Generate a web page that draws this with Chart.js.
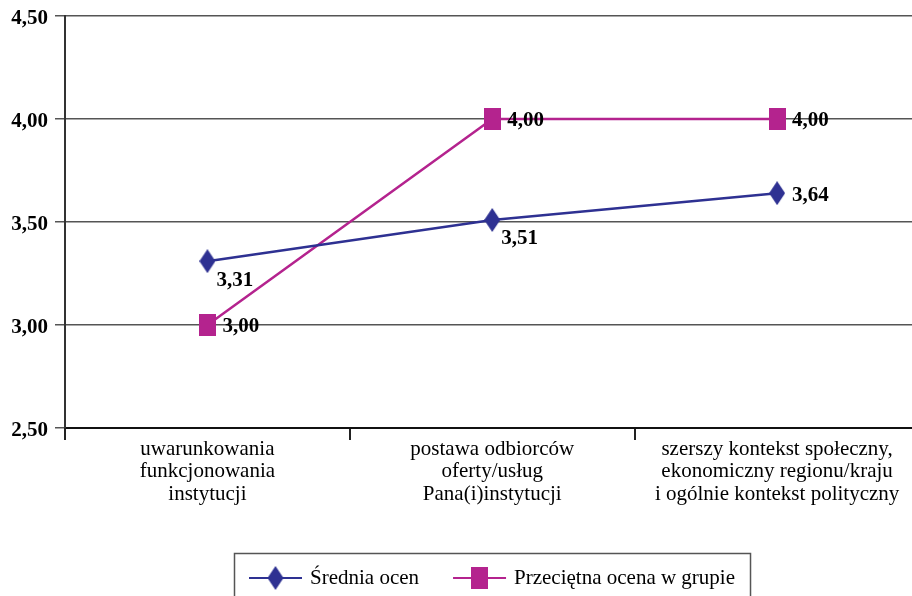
<!DOCTYPE html>
<html>
<head>
<meta charset="utf-8">
<script src="https://cdn.jsdelivr.net/npm/chart.js@4.4.1/dist/chart.umd.min.js"></script>
<style>
  html, body { margin: 0; padding: 0; background: #fff; overflow: hidden; }
  #wrap { width: 926px; height: 596px; }
</style>
</head>
<body>
<div id="wrap"><canvas id="chart" width="926" height="596"></canvas></div>
<script>
const categories = [
  ['uwarunkowania', 'funkcjonowania', 'instytucji'],
  ['postawa odbiorców', 'oferty/usług', 'Pana(i)instytucji'],
  ['szerszy kontekst społeczny,', 'ekonomiczny regionu/kraju', 'i ogólnie kontekst polityczny']
];
const seriesNames = ['Średnia ocen', 'Przeciętna ocena w grupie'];
const sredniaOcen = [3.31, 3.51, 3.64];
const przecietnaOcena = [3.00, 4.00, 4.00];
const yTicks = [2.5, 3.0, 3.5, 4.0, 4.5];

const BLUE = '#2e3192';
const MAGENTA = '#b4238e';
const SERIF = '"Liberation Serif", "Times New Roman", serif';

const fmt = v => v.toFixed(2).replace('.', ',');

// marker images (slightly taller than wide)
function makeDiamond(color) {
  const c = document.createElement('canvas');
  c.width = 16; c.height = 24;
  const g = c.getContext('2d');
  g.fillStyle = color;
  g.beginPath();
  g.moveTo(8, 0); g.lineTo(16, 12); g.lineTo(8, 24); g.lineTo(0, 12);
  g.closePath();
  g.fill();
  return c;
}
function makeSquare(color) {
  const c = document.createElement('canvas');
  c.width = 17; c.height = 22;
  const g = c.getContext('2d');
  g.fillStyle = color;
  g.fillRect(0, 0, 17, 22);
  return c;
}
const diamond = makeDiamond(BLUE);
const square = makeSquare(MAGENTA);

// where each value label sits relative to its point
const labelPlace = [
  ['below', 'below', 'right'],
  ['right', 'right', 'right']
];

const valueLabels = {
  id: 'valueLabels',
  afterDatasetsDraw(chart) {
    const ctx = chart.ctx;
    ctx.save();
    ctx.font = 'bold 21px ' + SERIF;
    ctx.fillStyle = '#000';
    ctx.textAlign = 'left';
    ctx.textBaseline = 'middle';
    chart.data.datasets.forEach((ds, di) => {
      chart.getDatasetMeta(di).data.forEach((pt, i) => {
        const place = labelPlace[di][i];
        const dx = place === 'right' ? 15 : 9;
        const dy = place === 'right' ? 2 : 19;
        ctx.fillText(fmt(ds.data[i]), pt.x + dx, pt.y + dy);
      });
    });
    ctx.restore();
  }
};

const boxLegend = {
  id: 'boxLegend',
  afterDraw(chart) {
    const ctx = chart.ctx;
    const area = chart.chartArea;
    ctx.save();
    ctx.font = '21px ' + SERIF;
    const sample = 53, gap = 8, between = 34, pad = 15;
    const widths = chart.data.datasets.map(ds => ctx.measureText(ds.label).width);
    let total = pad * 2;
    widths.forEach((w, i) => { total += sample + gap + w + (i ? between : 0); });
    const left = Math.round((area.left + area.right) / 2 - total / 2);
    const top = 553;
    ctx.strokeStyle = '#555';
    ctx.lineWidth = 1.5;
    ctx.strokeRect(left + 0.5, top + 0.5, total, 60);
    const cy = top + 25;
    let x = left + pad;
    chart.data.datasets.forEach((ds, i) => {
      ctx.strokeStyle = ds.borderColor;
      ctx.lineWidth = 2;
      ctx.beginPath();
      ctx.moveTo(x, cy); ctx.lineTo(x + sample, cy);
      ctx.stroke();
      const img = ds.pointStyle;
      ctx.drawImage(img, x + sample / 2 - img.width / 2, cy - img.height / 2);
      ctx.fillStyle = '#000';
      ctx.textAlign = 'left';
      ctx.textBaseline = 'middle';
      ctx.fillText(ds.label, x + sample + gap, cy);
      x += sample + gap + widths[i] + between;
    });
    ctx.restore();
  }
};

new Chart(document.getElementById('chart'), {
  type: 'line',
  data: {
    labels: categories,
    datasets: [{
      label: seriesNames[0],
      data: sredniaOcen,
      borderColor: BLUE,
      backgroundColor: BLUE,
      borderWidth: 2.5,
      pointStyle: diamond,
      tension: 0
    }, {
      label: seriesNames[1],
      data: przecietnaOcena,
      borderColor: MAGENTA,
      backgroundColor: MAGENTA,
      borderWidth: 2.5,
      pointStyle: square,
      tension: 0
    }]
  },
  options: {
    responsive: false,
    animation: false,
    devicePixelRatio: 1,
    layout: { padding: { top: 16, left: 0, right: 0, bottom: 0 } },
    plugins: {
      legend: { display: false },
      tooltip: { enabled: false }
    },
    scales: {
      x: {
        offset: true,
        grid: { offset: true, drawOnChartArea: false, tickLength: 12, color: '#222', lineWidth: 2 },
        border: { color: '#111', width: 2 },
        ticks: {
          color: '#000',
          maxRotation: 0,
          autoSkip: false,
          padding: -2,
          font: { family: SERIF, size: 21, lineHeight: 1.07 }
        },
        afterFit(s) { s.height = 168; }
      },
      y: {
        min: yTicks[0],
        max: yTicks[yTicks.length - 1],
        afterBuildTicks(s) { s.ticks = yTicks.map(v => ({ value: v })); },
        grid: { color: '#555', lineWidth: 1.5, tickLength: 10 },
        border: { color: '#333', width: 2 },
        ticks: {
          color: '#000',
          padding: 7,
          labelOffset: 3,
          font: { family: SERIF, size: 21, weight: 'bold' },
          callback: v => fmt(v)
        },
        afterFit(s) {
          s.width = 65;
          s.paddingTop = 0;
          s.paddingBottom = 0;
        }
      }
    }
  },
  plugins: [valueLabels, boxLegend]
});
</script>
</body>
</html>
